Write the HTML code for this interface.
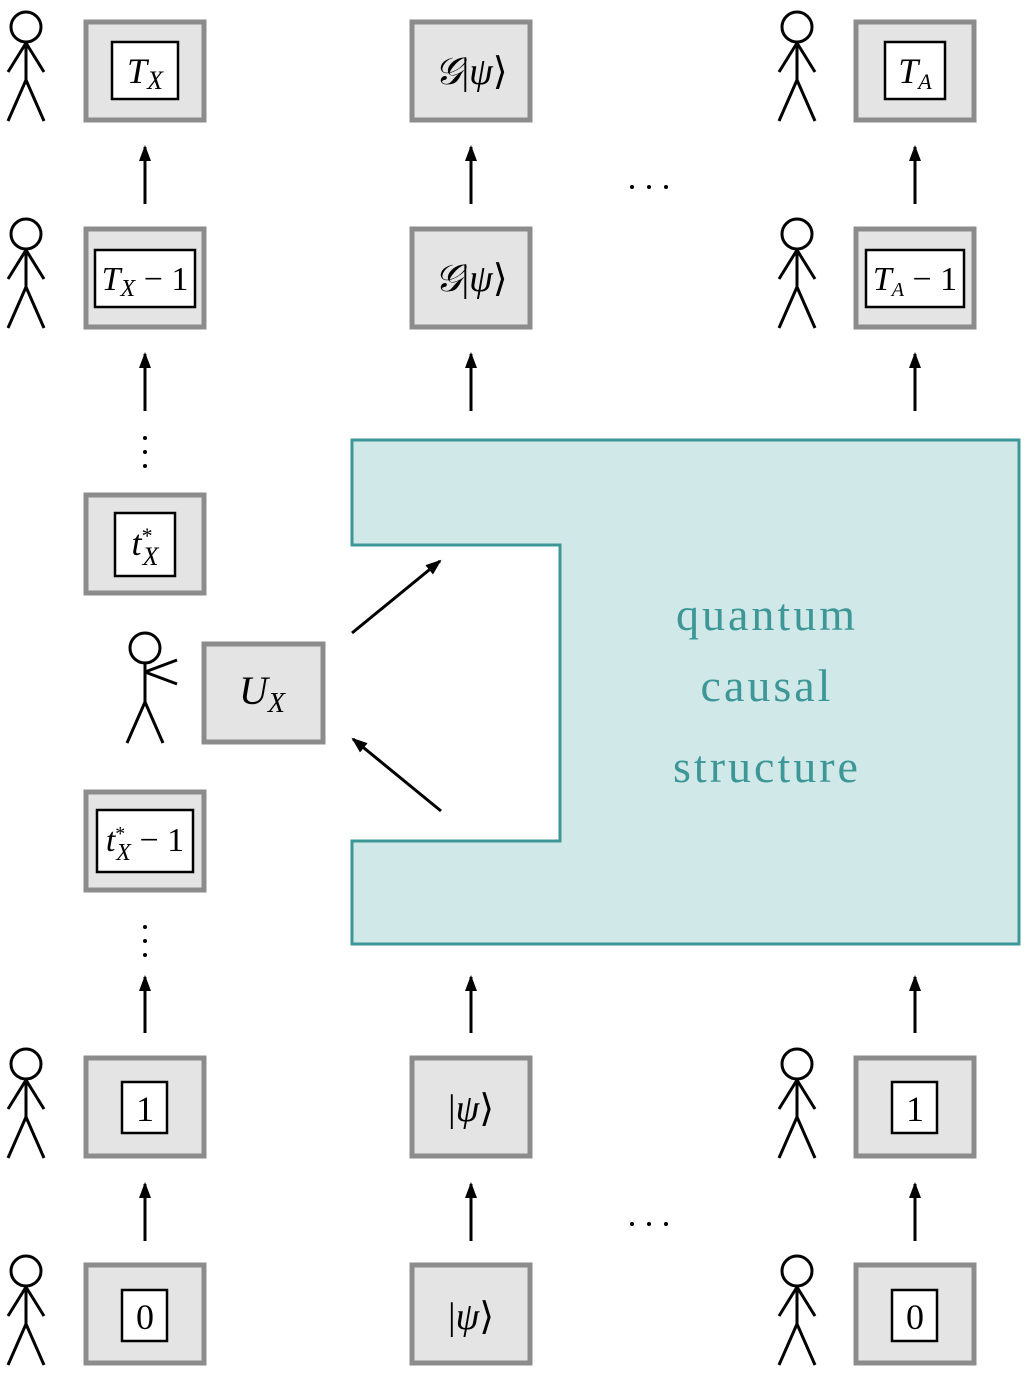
<!DOCTYPE html>
<html><head><meta charset="utf-8"><style>
html,body{margin:0;padding:0;background:#fff;}
svg{display:block;}
text{font-family:"Liberation Serif",serif;fill:#000;}
.m{font-style:italic;}
</style></head><body>
<svg width="1030" height="1376" viewBox="0 0 1030 1376" xmlns="http://www.w3.org/2000/svg">
<defs>
<g id="fig" fill="none" stroke="#000" stroke-width="3">
<circle cx="0" cy="0" r="15"/>
<line x1="0" y1="15" x2="0" y2="53"/>
<line x1="0" y1="16" x2="-18" y2="45"/>
<line x1="0" y1="16" x2="18" y2="45"/>
<line x1="0" y1="53" x2="-18" y2="94"/>
<line x1="0" y1="53" x2="18" y2="94"/>
</g>
<marker id="ah" markerWidth="16" markerHeight="12" refX="14" refY="6" orient="auto" markerUnits="userSpaceOnUse">
<path d="M0,0 L16,6 L0,12 z" fill="#000"/>
</marker>
<marker id="ah2" markerWidth="16" markerHeight="12" refX="14" refY="6" orient="auto" markerUnits="userSpaceOnUse">
<path d="M0,0 L16,6 L0,12 z" fill="#000"/>
</marker>
</defs>

<polygon points="352,440 1019,440 1019,944 352,944 352,841 560,841 560,545 352,545" fill="#d1e8e8" stroke="#3d9797" stroke-width="3"/>
<g font-size="46" text-anchor="middle" style="fill:#3d9797;letter-spacing:3px">
<text x="767" y="630" style="fill:#3d9797">quantum</text>
<text x="767" y="701" style="fill:#3d9797">causal</text>
<text x="767" y="782" style="fill:#3d9797">structure</text>
</g>

<g fill="#e4e4e4" stroke="#8c8c8c" stroke-width="5">
<rect x="86" y="22" width="118" height="98"/>
<rect x="86" y="229" width="118" height="98"/>
<rect x="86" y="495" width="118" height="98"/>
<rect x="86" y="792" width="118" height="98"/>
<rect x="86" y="1058" width="118" height="98"/>
<rect x="86" y="1265" width="118" height="98"/>
<rect x="412" y="22" width="118" height="98"/>
<rect x="412" y="229" width="118" height="98"/>
<rect x="412" y="1058" width="118" height="98"/>
<rect x="412" y="1265" width="118" height="98"/>
<rect x="856" y="22" width="118" height="98"/>
<rect x="856" y="229" width="118" height="98"/>
<rect x="856" y="1058" width="118" height="98"/>
<rect x="856" y="1265" width="118" height="98"/>
<rect x="204" y="644" width="119" height="98"/>
</g>
<g fill="#fff" stroke="#000" stroke-width="2.5">
<rect x="112" y="42" width="66" height="57"/>
<rect x="95" y="250" width="100" height="57"/>
<rect x="115" y="513" width="60" height="63"/>
<rect x="97" y="810" width="96" height="62"/>
<rect x="122" y="1082" width="45" height="51"/>
<rect x="122" y="1290" width="45" height="51"/>
<rect x="885" y="42" width="60" height="57"/>
<rect x="866" y="250" width="98" height="57"/>
<rect x="892" y="1082" width="45" height="51"/>
<rect x="892" y="1290" width="45" height="51"/>
</g>

<text x="145" y="83" font-size="36" text-anchor="middle"><tspan class="m">T</tspan><tspan class="m" font-size="26" dy="6">X</tspan></text>
<text x="145" y="290" font-size="34" text-anchor="middle"><tspan class="m">T</tspan><tspan class="m" font-size="24" dy="6">X</tspan><tspan dy="-6"> − 1</tspan></text>
<text x="145" y="555" font-size="36" text-anchor="middle"><tspan class="m">t</tspan><tspan font-size="22" dy="-12">*</tspan><tspan class="m" font-size="26" dx="-10" dy="22">X</tspan></text>
<text x="145" y="851" font-size="34" text-anchor="middle"><tspan class="m">t</tspan><tspan font-size="20" dy="-11">*</tspan><tspan class="m" font-size="24" dx="-9" dy="20">X</tspan><tspan dy="-9"> − 1</tspan></text>
<text x="145" y="1121" font-size="36" text-anchor="middle">1</text>
<text x="145" y="1329" font-size="36" text-anchor="middle">0</text>
<text x="915" y="1121" font-size="36" text-anchor="middle">1</text>
<text x="915" y="1329" font-size="36" text-anchor="middle">0</text>
<text x="915" y="83" font-size="36" text-anchor="middle"><tspan class="m">T</tspan><tspan class="m" font-size="22" dy="6">A</tspan></text>
<text x="915" y="290" font-size="34" text-anchor="middle"><tspan class="m">T</tspan><tspan class="m" font-size="20" dy="6">A</tspan><tspan dy="-6"> − 1</tspan></text>
<text x="471" y="84" font-size="38" text-anchor="middle"><tspan class="m">𝒢</tspan>|<tspan class="m">ψ</tspan>⟩</text>
<text x="471" y="291" font-size="38" text-anchor="middle"><tspan class="m">𝒢</tspan>|<tspan class="m">ψ</tspan>⟩</text>
<text x="471" y="1121" font-size="38" text-anchor="middle">|<tspan class="m">ψ</tspan>⟩</text>
<text x="471" y="1329" font-size="38" text-anchor="middle">|<tspan class="m">ψ</tspan>⟩</text>
<text x="262" y="704" font-size="40" text-anchor="middle"><tspan class="m">U</tspan><tspan class="m" font-size="28" dy="8">X</tspan></text>

<g stroke="#000" stroke-width="3" marker-end="url(#ah)">
<line x1="145" y1="204" x2="145" y2="147"/>
<line x1="145" y1="411" x2="145" y2="354"/>
<line x1="145" y1="1033" x2="145" y2="977"/>
<line x1="145" y1="1241" x2="145" y2="1184"/>
<line x1="471" y1="204" x2="471" y2="147"/>
<line x1="471" y1="411" x2="471" y2="354"/>
<line x1="471" y1="1033" x2="471" y2="977"/>
<line x1="471" y1="1241" x2="471" y2="1184"/>
<line x1="915" y1="204" x2="915" y2="147"/>
<line x1="915" y1="411" x2="915" y2="354"/>
<line x1="915" y1="1033" x2="915" y2="977"/>
<line x1="915" y1="1241" x2="915" y2="1184"/>
</g>
<g stroke="#000" stroke-width="3" marker-end="url(#ah2)">
<line x1="352" y1="633" x2="440" y2="561"/>
<line x1="441" y1="811" x2="353" y2="739"/>
</g>

<g fill="#000">
<circle cx="145" cy="438" r="2"/><circle cx="145" cy="452" r="2"/><circle cx="145" cy="466" r="2"/>
<circle cx="145" cy="927" r="2"/><circle cx="145" cy="941" r="2"/><circle cx="145" cy="955" r="2"/>
<circle cx="632" cy="187" r="2"/><circle cx="649" cy="187" r="2"/><circle cx="666" cy="187" r="2"/>
<circle cx="632" cy="1224" r="2"/><circle cx="649" cy="1224" r="2"/><circle cx="666" cy="1224" r="2"/>
</g>

<use href="#fig" x="26" y="27"/>
<use href="#fig" x="26" y="234"/>
<use href="#fig" x="26" y="1064"/>
<use href="#fig" x="26" y="1271"/>
<use href="#fig" x="797" y="27"/>
<use href="#fig" x="797" y="234"/>
<use href="#fig" x="797" y="1064"/>
<use href="#fig" x="797" y="1271"/>
<g fill="none" stroke="#000" stroke-width="3">
<circle cx="145" cy="648" r="15"/>
<line x1="145" y1="663" x2="145" y2="702"/>
<line x1="145" y1="672" x2="177" y2="660"/>
<line x1="145" y1="672" x2="177" y2="684"/>
<line x1="145" y1="702" x2="127" y2="743"/>
<line x1="145" y1="702" x2="163" y2="743"/>
</g>
</svg>
</body></html>
